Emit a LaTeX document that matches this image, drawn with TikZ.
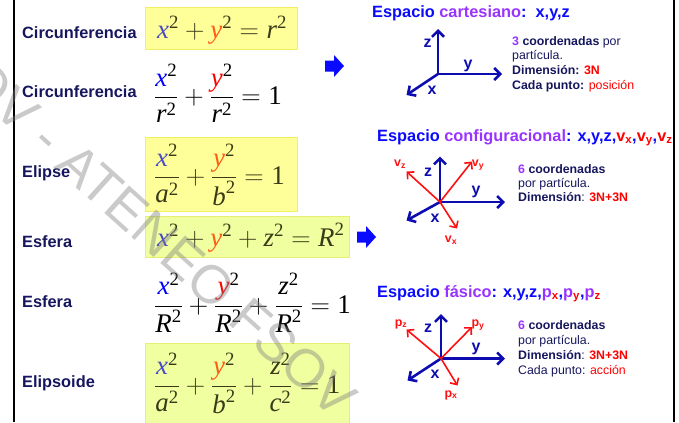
\RequirePackage{fix-cm}
\documentclass[tikz,border=0pt]{standalone}
\usepackage{amsmath}
\usepackage{fontspec}
\setmainfont{Liberation Sans}
\newfontfamily\tnr{Liberation Serif}
\usetikzlibrary{arrows.meta}
\definecolor{navy}{HTML}{16165E}
\definecolor{tblue}{HTML}{0A0AFF}
\definecolor{tpurple}{HTML}{9933FF}
\definecolor{axblue}{HTML}{0C0CB0}
\definecolor{axred}{HTML}{FF1010}
\definecolor{txred}{HTML}{FF0000}
\definecolor{boxyel}{HTML}{FFFF99}
\definecolor{boxyelb}{HTML}{F2F060}
\definecolor{boxgrn}{HTML}{F0FFA0}
\definecolor{boxgrnb}{HTML}{E4F070}
\definecolor{olive}{HTML}{3A3A18}
\definecolor{exblue}{HTML}{4A4AC8}
\definecolor{eyred}{HTML}{FF5A14}
\definecolor{pxblue}{HTML}{0000FF}
\definecolor{pyred}{HTML}{FF0000}
\newcommand{\mi}[1]{\text{\tnr\itshape #1}}
\newcommand{\sq}{^{\text{\tnr 2}}}
\newcommand{\one}{\text{\tnr 1}}
\tikzset{
  lab/.style={anchor=base west, inner sep=0, text=navy, font=\fontsize{16.4}{18}\selectfont\bfseries},
  eqn/.style={anchor=base west, inner sep=0, font=\fontsize{27}{30}\selectfont},
  ybox/.style={fill=boxyel, draw=boxyelb, line width=0.8bp},
  gbox/.style={fill=boxgrn, draw=boxgrnb, line width=0.8bp},
  ttl/.style={anchor=base west, inner sep=0, text=tblue, font=\fontsize{16.4}{18}\selectfont\bfseries},
  info/.style={anchor=base west, inner sep=0, text=navy, font=\fontsize{12.4}{15}\selectfont},
  axl/.style={anchor=base, inner sep=0, text=axblue, font=\fontsize{16}{18}\selectfont\bfseries},
  redl/.style={inner sep=0, text=axred, font=\fontsize{12.5}{14}\selectfont\bfseries},
  axis/.style={draw=axblue, line width=2.6bp, -{Straight Barb[length=6bp,width=12bp]}},
  raxis/.style={draw=axred, line width=1.6bp, -{Straight Barb[length=5bp,width=10bp]}},
  bigarrow/.style={fill=tblue},
  vline/.style={draw=black, line width=2bp},
  wmark/.style={rotate=-42, inner sep=0, text=black!50, opacity=0.42, font=\fontsize{54}{54}\selectfont}
}
\begin{document}
\begin{tikzpicture}[x=1bp,y=-1bp]
\useasboundingbox (0,0) rectangle (679,422);
% frame lines
\coordinate (lt) at (13.5,0); \coordinate (lb) at (13.5,422);
\coordinate (rt) at (674,0); \coordinate (rb) at (674,422);
\draw[vline] (lt) -- (lb);
\draw[vline] (rt) -- (rb);
% boxes
\path[ybox] (145,7) rectangle (297,49);
\path[ybox] (145,137) rectangle (297,211);
\path[gbox] (145,216) rectangle (349,257);
\path[gbox] (145,343) rectangle (349,426);
% labels
\node[lab] (l1) at (22,38) {Circunferencia};
\node[lab] (l2) at (22,97) {Circunferencia};
\node[lab] (l3) at (22,177) {Elipse};
\node[lab] (l4) at (22,247) {Esfera};
\node[lab] (l5) at (22,307) {Esfera};
\node[lab] (l6) at (22,387) {Elipsoide};
% equations
\node[eqn, text=olive] (e1) at (157,38) {$\mi{\color{exblue}x}\sq+\mi{\color{eyred}y}\sq=\mi{r}\sq$};
\node[eqn] (e2) at (154,104.5) {$\dfrac{\mi{\color{pxblue}x}\sq}{\mi{r}\sq}+\dfrac{\mi{\color{pyred}y}\sq}{\mi{r}\sq}=\one$};
\node[eqn, text=olive] (e3) at (154,184.5) {$\dfrac{\mi{\color{exblue}x}\sq}{\mi{a}\sq}+\dfrac{\mi{\color{eyred}y}\sq}{\mi{b}\sq}=\one$};
\node[eqn, text=olive] (e4) at (157,246) {$\mi{\color{exblue}x}\sq+\mi{\color{eyred}y}\sq+\mi{z}\sq=\mi{R}\sq$};
\node[eqn] (e5) at (154,313) {$\dfrac{\mi{\color{pxblue}x}\sq}{\mi{R}\sq}+\dfrac{\mi{\color{pyred}y}\sq}{\mi{R}\sq}+\dfrac{\mi{z}\sq}{\mi{R}\sq}=\one$};
\node[eqn, text=olive] (e6) at (154,393) {$\dfrac{\mi{\color{exblue}x}\sq}{\mi{a}\sq}+\dfrac{\mi{\color{eyred}y}\sq}{\mi{b}\sq}+\dfrac{\mi{z}\sq}{\mi{c}\sq}=\one$};
% big arrows
\fill[bigarrow] (325,60.5) -- (334,60.5) -- (334,55) -- (344,66) -- (334,77) -- (334,71.5) -- (325,71.5) -- cycle;
\fill[bigarrow] (357,231.5) -- (366,231.5) -- (366,226) -- (376,237) -- (366,248) -- (366,242.5) -- (357,242.5) -- cycle;
% titles
\node[ttl] (t1) at (372,17) {Espacio {\color{tpurple}cartesiano}:\ \ x,y,z};
\node[ttl] (t2) at (377,141) {Espacio {\color{tpurple}configuracional}: x,y,z,{\color{txred}v\textsubscript{x}},{\color{txred}v\textsubscript{y}},{\color{txred}v\textsubscript{z}}};
\node[ttl] (t3) at (377,297) {Espacio {\color{tpurple}fásico}: x,y,z,{\color{tpurple}p\textsubscript{\color{txred}x}},{\color{tpurple}p\textsubscript{\color{txred}y}},{\color{tpurple}p\textsubscript{\color{txred}z}}};
% diagram 1
\coordinate (o1) at (438,74);
\coordinate (z1) at (438,29);
\coordinate (y1) at (502,74);
\coordinate (x1) at (406.5,95);
\draw[axis] (o1) -- (z1);
\draw[axis] (o1) -- (y1);
\draw[axis] (o1) -- (x1);
\node[axl] (lz1) at (427.5,47) {z};
\node[axl] (ly1) at (468,68) {y};
\node[axl] (lx1) at (432,94) {x};
% diagram 2
\coordinate (o2) at (440,202);
\coordinate (z2) at (440,156.5);
\coordinate (y2) at (505,202);
\coordinate (x2) at (406.5,220.5);
\coordinate (vz2) at (406.5,171.5);
\coordinate (vy2) at (472,161.5);
\coordinate (vx2) at (457,228.5);
\draw[axis] (o2) -- (z2);
\draw[axis] (o2) -- (y2);
\draw[axis] (o2) -- (x2);
\draw[raxis] (o2) -- (vz2);
\draw[raxis] (o2) -- (vy2);
\draw[raxis] (o2) -- (vx2);
\node[axl] (lz2) at (428,176) {z};
\node[axl] (ly2) at (476,194) {y};
\node[axl] (lx2) at (435,222.5) {x};
\node[redl] (lvz2) at (400,164) {v\textsubscript{z}};
\node[redl] (lvy2) at (478,165) {v\textsubscript{y}};
\node[redl] (lvx2) at (451,240) {v\textsubscript{x}};
% diagram 3
\coordinate (o3) at (441,358.5);
\coordinate (z3) at (441,314);
\coordinate (y3) at (505,358.5);
\coordinate (x3) at (407.5,380.5);
\coordinate (pz3) at (406.5,329.5);
\coordinate (py3) at (472,327);
\coordinate (px3) at (457.5,385.5);
\draw[axis] (o3) -- (z3);
\draw[axis] (o3) -- (y3);
\draw[axis] (o3) -- (x3);
\draw[raxis] (o3) -- (pz3);
\draw[raxis] (o3) -- (py3);
\draw[raxis] (o3) -- (px3);
\node[axl] (lz3) at (428,332.5) {z};
\node[axl] (ly3) at (476,351.5) {y};
\node[axl] (lx3) at (435,378.5) {x};
\node[redl] (lpz3) at (401,324) {p\textsubscript{z}};
\node[redl] (lpy3) at (478,325) {p\textsubscript{y}};
\node[redl] (lpx3) at (451,395) {p\textsubscript{x}};
% info blocks
\node[info] (i1a) at (512,45) {{\color{tpurple}\bfseries 3} \textbf{coordenadas} por};
\node[info] (i1b) at (512,59) {partícula.};
\node[info] (i1c) at (512,74) {\textbf{Dimensión:} {\color{txred}\bfseries 3N}};
\node[info] (i1d) at (512,89) {\textbf{Cada punto:} {\color{txred}posición}};
\node[info] (i2a) at (518,173) {{\color{tpurple}\bfseries 6} \textbf{coordenadas}};
\node[info] (i2b) at (518,187) {por partícula.};
\node[info] (i2c) at (518,201.5) {\textbf{Dimensión}: {\color{txred}\bfseries 3N+3N}};
\node[info] (i3a) at (518,329) {{\color{tpurple}\bfseries 6} \textbf{coordenadas}};
\node[info] (i3b) at (518,344) {por partícula.};
\node[info] (i3c) at (518,359) {\textbf{Dimensión}: {\color{txred}\bfseries 3N+3N}};
\node[info] (i3d) at (518,374) {Cada punto: {\color{txred}acción}};
% watermark
\node[wmark] (wm) at (160,238) {OV - ATENEO FSOV};
\end{tikzpicture}
\end{document}
